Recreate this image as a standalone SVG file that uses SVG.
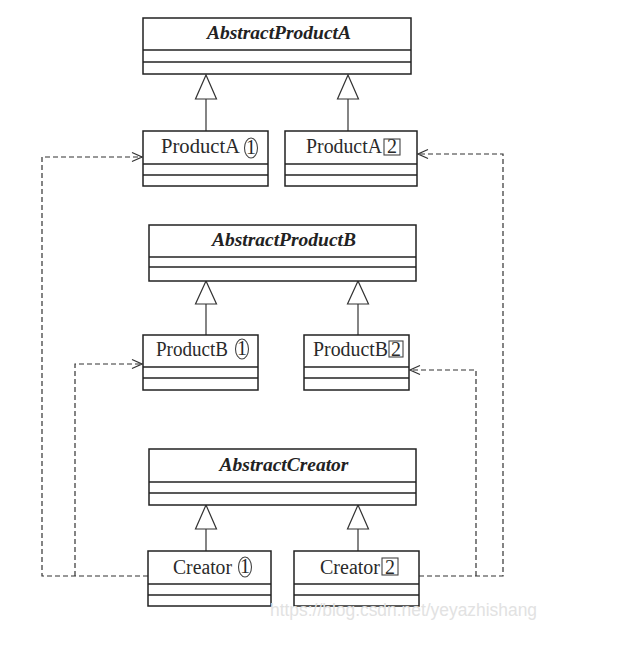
<svg xmlns="http://www.w3.org/2000/svg" width="622" height="647" viewBox="0 0 622 647">
<style>
.box{fill:#fff;stroke:#222;stroke-width:1.5}
.div{stroke:#222;stroke-width:1.3}
.abs{font-family:"Liberation Serif",serif;font-weight:bold;font-style:italic;font-size:19.5px;fill:#222;text-anchor:middle}
.cls{font-family:"Liberation Serif",serif;font-size:20px;fill:#2a2a2a}
.gen{fill:none;stroke:#333;stroke-width:1.2}
.tri{fill:#fff;stroke:#333;stroke-width:1.2}
.dep{fill:none;stroke:#333;stroke-width:1.2;stroke-dasharray:5 3}
.enc{fill:none;stroke:#444;stroke-width:1.1}
.wm{font-family:"Liberation Sans",Arial,sans-serif;font-size:17.5px;fill:#e2e2e2}
</style>
<defs>
<marker id="open" viewBox="0 0 12 12" refX="11" refY="6" markerWidth="12" markerHeight="12" markerUnits="userSpaceOnUse" orient="auto">
<path d="M1,1.5 L11,6 L1,10.5" fill="none" stroke="#333" stroke-width="1.2"/>
</marker>
</defs>
<rect width="622" height="647" fill="#fff"/>
<g id="connectors">
<line class="gen" x1="206" y1="99" x2="206" y2="131"/>
<polygon class="tri" points="206,75 195.5,99 216.5,99"/>
<line class="gen" x1="348" y1="99" x2="348" y2="131"/>
<polygon class="tri" points="348,75 337.5,99 358.5,99"/>
<line class="gen" x1="206" y1="304" x2="206" y2="335"/>
<polygon class="tri" points="206,281 195.5,304 216.5,304"/>
<line class="gen" x1="358" y1="304" x2="358" y2="335"/>
<polygon class="tri" points="358,281 347.5,304 368.5,304"/>
<line class="gen" x1="206" y1="529" x2="206" y2="551"/>
<polygon class="tri" points="206,505 195.5,529 216.5,529"/>
<line class="gen" x1="358" y1="529" x2="358" y2="551"/>
<polygon class="tri" points="358,505 347.5,529 368.5,529"/>
<path class="dep" d="M148,576 L42,576 L42,157 L142,157" marker-end="url(#open)"/>
<path class="dep" d="M75,576 L75,364 L142,364" marker-end="url(#open)"/>
<path class="dep" d="M419,576 L503,576 L503,154 L418,154" marker-end="url(#open)"/>
<path class="dep" d="M476,576 L476,370 L410,370" marker-end="url(#open)"/>
</g>
<g id="AbstractProductA">
<rect class="box" x="143" y="18" width="268" height="56"/>
<line class="div" x1="143" y1="50" x2="411" y2="50"/>
<line class="div" x1="143" y1="62" x2="411" y2="62"/>
<text class="abs" x="279" y="39">AbstractProductA</text>
</g>
<g id="ProductA1">
<rect class="box" x="143" y="131" width="125" height="55"/>
<line class="div" x1="143" y1="164" x2="268" y2="164"/>
<line class="div" x1="143" y1="175" x2="268" y2="175"/>
<text class="cls" x="161" y="153" textLength="79" lengthAdjust="spacingAndGlyphs">ProductA</text>
<text class="cls" x="251" y="154" text-anchor="middle">1</text>
<ellipse class="enc" cx="251" cy="148" rx="6.5" ry="10"/>
</g>
<g id="ProductA2">
<rect class="box" x="285" y="131" width="132" height="55"/>
<line class="div" x1="285" y1="164" x2="417" y2="164"/>
<line class="div" x1="285" y1="175" x2="417" y2="175"/>
<text class="cls" x="306" y="153" textLength="76" lengthAdjust="spacingAndGlyphs">ProductA</text>
<text class="cls" x="392" y="153" text-anchor="middle">2</text>
<rect class="enc" x="384" y="139" width="16" height="16"/>
</g>
<g id="AbstractProductB">
<rect class="box" x="149" y="225" width="267" height="56"/>
<line class="div" x1="149" y1="257" x2="416" y2="257"/>
<line class="div" x1="149" y1="267" x2="416" y2="267"/>
<text class="abs" x="284" y="246">AbstractProductB</text>
</g>
<g id="ProductB1">
<rect class="box" x="143" y="335" width="115" height="55"/>
<line class="div" x1="143" y1="367" x2="258" y2="367"/>
<line class="div" x1="143" y1="378" x2="258" y2="378"/>
<text class="cls" x="156" y="356" textLength="72" lengthAdjust="spacingAndGlyphs">ProductB</text>
<text class="cls" x="242" y="355" text-anchor="middle">1</text>
<ellipse class="enc" cx="242" cy="349" rx="6.5" ry="10"/>
</g>
<g id="ProductB2">
<rect class="box" x="304" y="335" width="105" height="55"/>
<line class="div" x1="304" y1="367" x2="409" y2="367"/>
<line class="div" x1="304" y1="378" x2="409" y2="378"/>
<text class="cls" x="313" y="356" textLength="75" lengthAdjust="spacingAndGlyphs">ProductB</text>
<text class="cls" x="396" y="356" text-anchor="middle">2</text>
<rect class="enc" x="389" y="341" width="14" height="16"/>
</g>
<g id="AbstractCreator">
<rect class="box" x="149" y="449" width="267" height="56"/>
<line class="div" x1="149" y1="482" x2="416" y2="482"/>
<line class="div" x1="149" y1="493" x2="416" y2="493"/>
<text class="abs" x="284" y="471">AbstractCreator</text>
</g>
<g id="Creator1">
<rect class="box" x="148" y="551" width="123" height="55"/>
<line class="div" x1="148" y1="584" x2="271" y2="584"/>
<line class="div" x1="148" y1="595" x2="271" y2="595"/>
<text class="cls" x="173" y="574" textLength="59" lengthAdjust="spacingAndGlyphs">Creator</text>
<text class="cls" x="245" y="573" text-anchor="middle">1</text>
<ellipse class="enc" cx="245" cy="567" rx="6.5" ry="10"/>
</g>
<g id="Creator2">
<rect class="box" x="294" y="551" width="125" height="55"/>
<line class="div" x1="294" y1="584" x2="419" y2="584"/>
<line class="div" x1="294" y1="595" x2="419" y2="595"/>
<text class="cls" x="320" y="574" textLength="60" lengthAdjust="spacingAndGlyphs">Creator</text>
<text class="cls" x="390" y="574" text-anchor="middle">2</text>
<rect class="enc" x="382" y="558" width="16" height="17"/>
</g>
<text class="wm" x="270" y="616" textLength="267" lengthAdjust="spacingAndGlyphs">https://blog.csdn.net/yeyazhishang</text>
</svg>
